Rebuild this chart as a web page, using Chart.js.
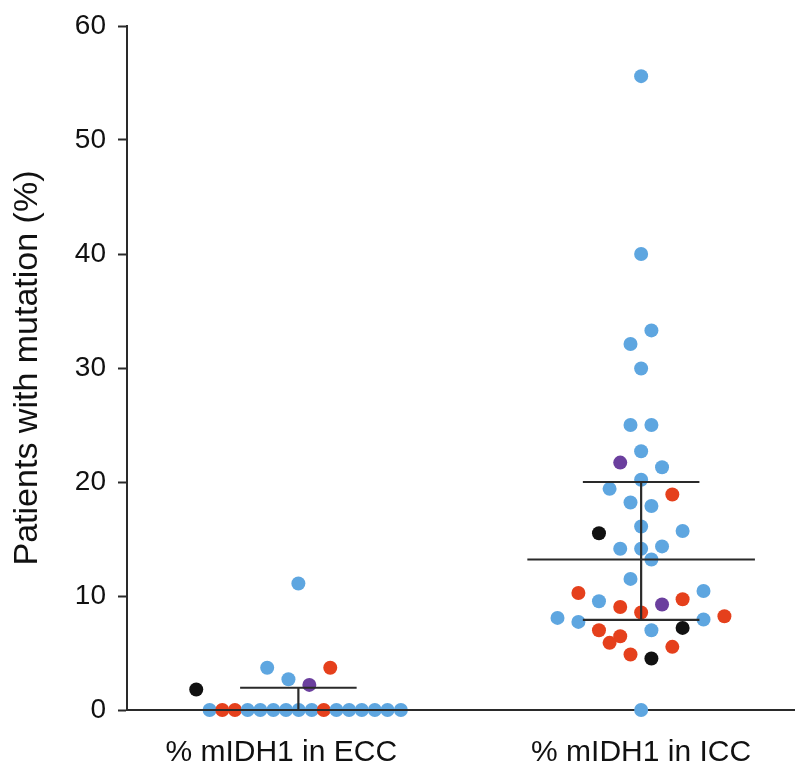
<!DOCTYPE html>
<html>
<head>
<meta charset="utf-8">
<script src="https://cdn.jsdelivr.net/npm/chart.js@4"></script>
<style>
  body { margin: 0; background: #fff; }
  #wrap { width: 801px; height: 766px; }
</style>
</head>
<body>
<div id="wrap"><canvas id="myChart" width="801" height="766"></canvas></div>
<script>
const groups = ['% mIDH1 in ECC', '% mIDH1 in ICC'];
const groupCenters = [1, 2];
const labelPositions = [0.95, 2.0];
const yTicks = [0, 10, 20, 30, 40, 50, 60];

// ECC: value, swarm offset, colour code (b = blue, r = red, k = black, p = purple)
const eccValues  = [0, 0, 0, 0, 0, 0, 0, 0, 0, 0, 0, 0, 0, 0, 0, 0, 11.1, 3.7, 3.7, 2.7, 2.2, 1.8];
const eccOffsets = [-0.259, -0.222, -0.185, -0.148, -0.111, -0.073, -0.036, 0.001, 0.039, 0.074, 0.111, 0.148, 0.185, 0.223, 0.260, 0.299, 0, -0.091, 0.093, -0.029, 0.032, -0.298];
const eccKinds   = ['b', 'r', 'r', 'b', 'b', 'b', 'b', 'b', 'b', 'r', 'b', 'b', 'b', 'b', 'b', 'b', 'b', 'b', 'r', 'b', 'p', 'k'];

// ICC
const iccValues  = [55.6, 40.0, 33.3, 32.1, 29.95, 25.0, 25.0, 22.7, 21.7, 21.3, 20.2, 19.4, 18.9, 18.2, 17.9, 16.1, 15.5, 15.7, 14.15, 14.15, 14.35, 13.2, 11.5, 10.26, 10.44, 9.54, 9.04, 8.55, 9.25, 9.71, 8.08, 7.73, 7.94, 8.22, 7.0, 7.0, 7.2, 6.47, 5.89, 5.54, 4.87, 4.52, 0];
const iccOffsets = [0, 0, 0.030, -0.031, 0, -0.031, 0.030, 0, -0.061, 0.061, 0, -0.092, 0.091, -0.031, 0.030, 0, -0.123, 0.121, -0.061, 0, 0.061, 0.030, -0.031, -0.183, 0.182, -0.123, -0.061, 0, 0.061, 0.121, -0.244, -0.183, 0.182, 0.243, -0.123, 0.030, 0.121, -0.061, -0.092, 0.091, -0.031, 0.030, 0];
const iccKinds   = ['b', 'b', 'b', 'b', 'b', 'b', 'b', 'b', 'p', 'b', 'b', 'b', 'r', 'b', 'b', 'b', 'k', 'b', 'b', 'b', 'b', 'b', 'b', 'r', 'b', 'b', 'r', 'r', 'p', 'r', 'b', 'b', 'b', 'r', 'r', 'b', 'k', 'r', 'r', 'r', 'r', 'k', 'b'];

// median and interquartile range per group
const medians = [0, 13.2];
const q1 = [0, 7.9];
const q3 = [1.95, 20.0];

const kindColors = { b: '#5ea6e0', r: '#e5401c', k: '#111111', p: '#6b3f9e' };
const lineColor = '#2a2a2a';

function points(values, offsets, center) {
    return values.map((v, i) => ({ x: center + offsets[i], y: v }));
}

const datasets = [];

// error bars (drawn first so they sit on top)
groupCenters.forEach((c, i) => {
    const segs = [
        [[c - 0.332, medians[i]], [c + 0.332, medians[i]]],
        [[c - 0.17, q3[i]], [c + 0.17, q3[i]]],
        [[c - 0.17, q1[i]], [c + 0.17, q1[i]]],
        [[c, q1[i]], [c, q3[i]]]
    ];
    segs.forEach(s => {
        datasets.push({
            type: 'line',
            data: s.map(p => ({ x: p[0], y: p[1] })),
            borderColor: lineColor,
            borderWidth: 2.2,
            pointRadius: 0,
            fill: false,
            clip: false
        });
    });
});

datasets.push({
    label: groups[0],
    data: points(eccValues, eccOffsets, groupCenters[0]),
    backgroundColor: eccKinds.map(k => kindColors[k]),
    pointRadius: 7,
    borderWidth: 0,
    clip: false
});
datasets.push({
    label: groups[1],
    data: points(iccValues, iccOffsets, groupCenters[1]),
    backgroundColor: iccKinds.map(k => kindColors[k]),
    pointRadius: 7,
    borderWidth: 0,
    clip: false
});

const ctx = document.getElementById('myChart').getContext('2d');
const myChart = new Chart(ctx, {
    type: 'scatter',
    data: { datasets: datasets },
    options: {
        responsive: false,
        animation: false,
        events: [],
        layout: { padding: { top: 24, right: 0, bottom: 0, left: 0 } },
        plugins: {
            legend: { display: false },
            tooltip: { enabled: false }
        },
        scales: {
            x: {
                type: 'linear',
                min: 0.5,
                max: 2.446,
                grid: { display: false },
                border: { display: true, color: lineColor, width: 2 },
                afterBuildTicks: scale => {
                    scale.ticks = labelPositions.map(v => ({ value: v }));
                },
                ticks: {
                    autoSkip: false,
                    maxRotation: 0,
                    padding: 17,
                    color: '#111',
                    font: { family: 'Liberation Sans, Arial, sans-serif', size: 30 },
                    callback: (v, i) => groups[i]
                },
                afterFit: scale => { scale.height = 56; }
            },
            y: {
                min: 0,
                max: 60,
                afterBuildTicks: scale => {
                    scale.ticks = yTicks.map(v => ({ value: v }));
                },
                grid: {
                    drawOnChartArea: false,
                    drawTicks: true,
                    tickLength: 9,
                    tickWidth: 2,
                    color: lineColor
                },
                border: { display: true, color: lineColor, width: 2 },
                ticks: {
                    padding: 12,
                    color: '#111',
                    font: { family: 'Liberation Sans, Arial, sans-serif', size: 28, lineHeight: 1 }
                },
                title: {
                    display: true,
                    text: 'Patients with mutation (%)',
                    color: '#111',
                    padding: { top: 7, bottom: 0 },
                    font: { family: 'Liberation Sans, Arial, sans-serif', size: 34 }
                },
                afterFit: scale => { scale.width = 127; }
            }
        }
    }
});
</script>
</body>
</html>
